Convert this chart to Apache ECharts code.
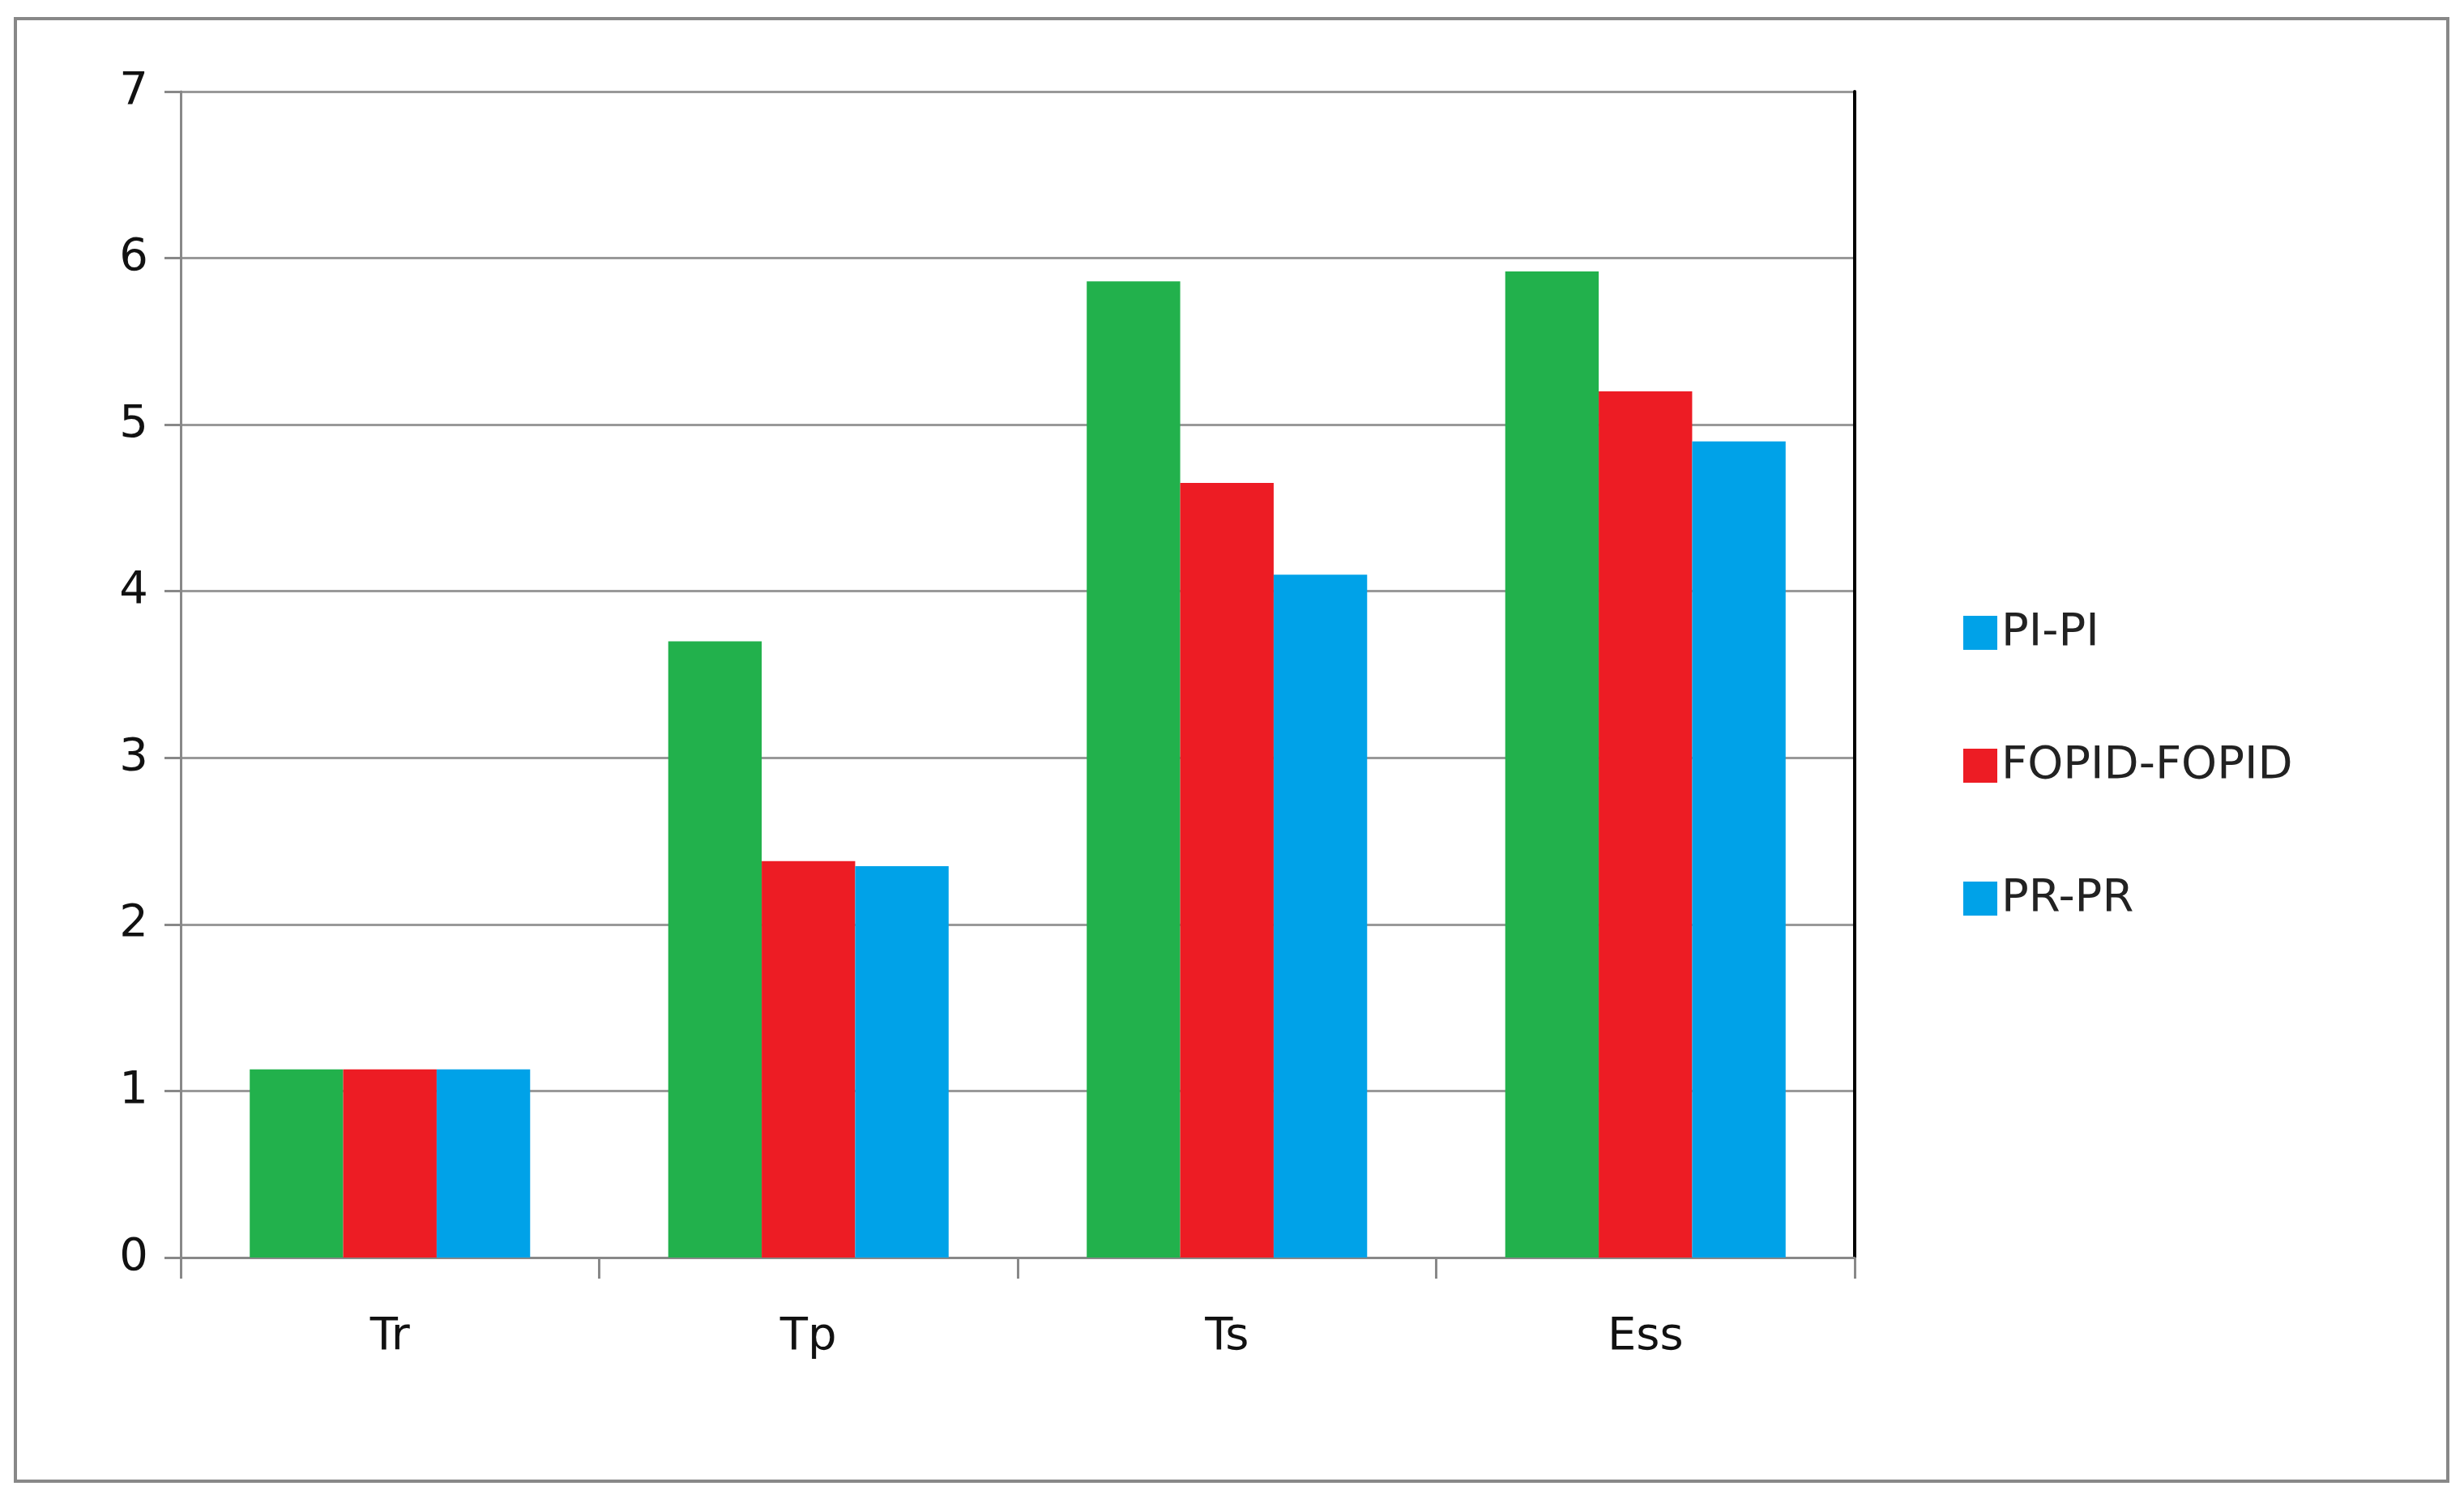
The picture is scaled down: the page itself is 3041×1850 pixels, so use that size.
<!DOCTYPE html>
<html>
<head>
<meta charset="utf-8">
<script src="https://cdn.jsdelivr.net/npm/echarts@6/dist/echarts.min.js"></script>
<style>html,body{margin:0;padding:0;background:#fff}#main{width:3041px;height:1850px}</style>
</head>
<body>
<div id="main"></div>
<script>
var categories = ['Tr', 'Tp', 'Ts', 'Ess'];
var seriesNames = ['PI-PI', 'FOPID-FOPID', 'PR-PR'];
var piPi = [1.13, 3.70, 5.86, 5.92];
var fopid = [1.13, 2.38, 4.65, 5.20];
var prPr = [1.13, 2.35, 4.10, 4.90];
var barColors = ['#22B14C', '#ED1C24', '#00A2E8'];
var legendColors = ['#00A2E8', '#ED1C24', '#00A2E8'];

var chart = echarts.init(document.getElementById('main'));
var font = 'DejaVu Sans';
var values = [piPi, fopid, prPr];

var option = {
  animation: false,
  textStyle: { fontFamily: font },
  graphic: [{
    type: 'rect',
    shape: { x: 19, y: 23, width: 3002, height: 1805 },
    style: { fill: 'none', stroke: '#888', lineWidth: 4 }
  }],
  grid: { left: 223, right: 752, top: 113, bottom: 298 },
  legend: {
    orient: 'vertical',
    left: 2418,
    top: 748,
    itemWidth: 42,
    itemHeight: 42,
    itemGap: 108,
    icon: 'rect',
    textStyle: { fontSize: 56, color: '#222', fontFamily: font },
    data: seriesNames.map(function (n, i) {
      return { name: n, itemStyle: { color: legendColors[i] } };
    })
  },
  xAxis: {
    type: 'category',
    data: categories,
    axisLine: { lineStyle: { color: '#888', width: 3 } },
    axisTick: { show: true, length: 26, lineStyle: { color: '#888', width: 3 } },
    axisLabel: { fontSize: 56, color: '#111', margin: 70 }
  },
  yAxis: [{
    type: 'value',
    min: 0, max: 7, interval: 1,
    axisLine: { show: true, lineStyle: { color: '#888', width: 3 } },
    axisTick: { show: true, length: 20, lineStyle: { color: '#888', width: 3 } },
    axisLabel: { fontSize: 56, color: '#111', margin: 40 },
    splitLine: { lineStyle: { color: '#999', width: 3 } }
  }, {
    type: 'value',
    position: 'right',
    min: 0, max: 7, interval: 1,
    axisLine: { show: true, lineStyle: { color: '#000', width: 4 } },
    axisTick: { show: false },
    axisLabel: { show: false },
    splitLine: { show: false }
  }],
  series: seriesNames.map(function (n, i) {
    return {
      name: n,
      type: 'bar',
      data: values[i],
      barGap: '0%',
      barCategoryGap: '33%',
      itemStyle: { color: barColors[i] }
    };
  })
};
chart.setOption(option);
</script>
</body>
</html>
